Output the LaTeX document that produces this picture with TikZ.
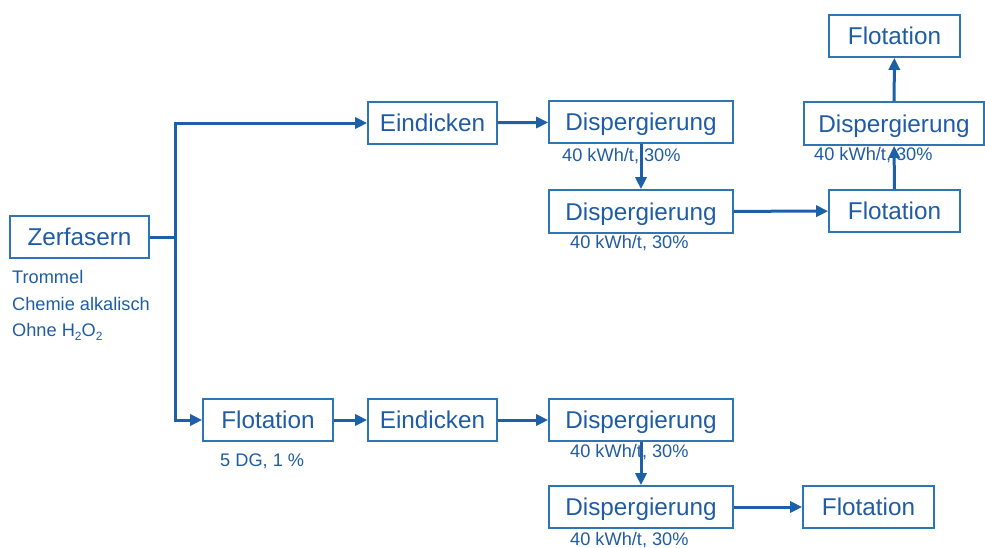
\documentclass[tikz,border=0pt]{standalone}
\usepackage{fontspec}
\setmainfont{Liberation Sans}
\usetikzlibrary{arrows.meta}
\definecolor{lineblue}{RGB}{30,96,168}
\definecolor{boxblue}{RGB}{46,117,182}
\definecolor{txtblue}{RGB}{31,92,165}
\newcommand{\lowsub}[1]{\raisebox{-0.45ex}{\fontsize{12}{12}\selectfont #1}}
\tikzset{
  procbox/.style={draw=boxblue, line width=1.6pt, inner sep=0pt, text=txtblue,
    font=\fontsize{24.3}{28}\selectfont, minimum height=42pt, text height=17.4pt, text depth=0pt},
  note/.style={anchor=west, inner sep=0pt, text=txtblue, font=\fontsize{18.2}{21}\selectfont},
  conn/.style={draw=lineblue, line width=3pt, -{Triangle[length=12pt,width=11pt]}},
  plain/.style={draw=lineblue, line width=3pt}
}
\begin{document}
\begin{tikzpicture}[x=1pt,y=-1pt]
\useasboundingbox (0,0) rectangle (985,547);
% boxes
\node[procbox, minimum width=139pt] (zer) at (79.5,237) {Zerfasern};
\node[procbox, minimum width=129pt] (eind1) at (432.5,123) {Eindicken};
\node[procbox, minimum width=184pt] (disp1) at (641,122) {Dispergierung};
\node[procbox, minimum width=184pt, minimum height=43pt] (disp2) at (641,211.5) {Dispergierung};
\node[procbox, minimum width=131pt] (flot1) at (894.5,211) {Flotation};
\node[procbox, minimum width=180pt, minimum height=43pt] (disp3) at (894,123.5) {Dispergierung};
\node[procbox, minimum width=131pt] (flot2) at (894.5,36) {Flotation};
\node[procbox, minimum width=130pt] (flotB) at (268,420) {Flotation};
\node[procbox, minimum width=129pt] (eindB) at (432.5,420) {Eindicken};
\node[procbox, minimum width=184pt] (dispB1) at (641,420) {Dispergierung};
\node[procbox, minimum width=184pt] (dispB2) at (641,507) {Dispergierung};
\node[procbox, minimum width=131pt] (flotB2) at (868.5,507) {Flotation};
% notes
\node[note] (n1) at (12,277) {Trommel};
\node[note] (n2) at (12,304) {Chemie alkalisch};
\node[note] (n3) at (12,332) {Ohne H\lowsub{2}O\lowsub{2}};
\node[note] (l1) at (562,156) {40 kWh/t, 30\%};
\node[note] (l2) at (570,243) {40 kWh/t, 30\%};
\node[note] (l3) at (814,155) {40 kWh/t, 30\%};
\node[note] (l4) at (570,452) {40 kWh/t, 30\%};
\node[note] (l5) at (570,540) {40 kWh/t, 30\%};
\node[note] (l6) at (220,461) {5 DG, 1 \%};
% connectors
\coordinate (j) at (175,237);
\draw[plain] (zer.east) -- (j);
\draw[conn] (j) |- (eind1.west);
\draw[conn] (j) |- (flotB.west);
\draw[conn] (eind1) -- (disp1);
\draw[conn] (disp1) -- (disp2);
\draw[conn] (disp2) -- (flot1);
\draw[conn] (flot1) -- (disp3);
\draw[conn] (disp3) -- (flot2);
\draw[conn] (flotB) -- (eindB);
\draw[conn] (eindB) -- (dispB1);
\draw[conn] (dispB1) -- (dispB2);
\draw[conn] (dispB2) -- (flotB2);
\end{tikzpicture}
\end{document}
